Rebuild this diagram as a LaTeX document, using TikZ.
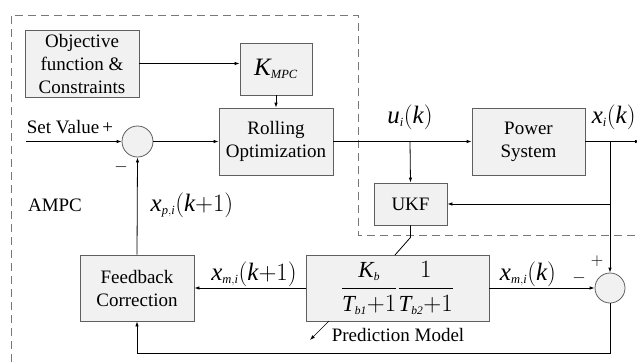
\documentclass[tikz,border=0pt]{standalone}
\usepackage{fontspec}
\setmainfont{Liberation Serif}
\usetikzlibrary{positioning,arrows.meta}
\definecolor{boxfill}{RGB}{241,241,241}
\definecolor{boxline}{RGB}{95,95,95}
\definecolor{dashline}{RGB}{120,120,120}
\newcommand{\sub}[1]{_{\scriptscriptstyle\mathit{#1}}}

\begin{document}
\begin{tikzpicture}[x=1pt,y=-1pt,line width=0.8pt,font=\fontsize{19}{23}\selectfont,
    blk/.style={draw=boxline,fill=boxfill,align=center,inner sep=0pt},
    sumc/.style={circle,draw=boxline,fill=boxfill,minimum size=31pt,inner sep=0pt},
    lbl/.style={font=\fontsize{25}{28}\selectfont},
    >={Latex[length=5pt,width=3.5pt]}]
                \useasboundingbox (0,0) rectangle (637,362);
                \draw[dashline,dash pattern=on 8pt off 5pt] (11,362) -- (11,15) -- (358,15) -- (358,235) -- (640,235);
                \node[blk,minimum width=114pt,minimum height=67pt] (obj) at (82,63.5) {Objective\\function \&\\Constraints};
                \node[blk,minimum width=72pt,minimum height=52pt,lbl] (kmpc) at (276,69) {$\mathit{K}\sub{MPC}$};
                \node[blk,minimum width=114pt,minimum height=67pt] (roll) at (276,141.5) {Rolling\\Optimization};
                \node[sumc] (sum1) at (137.5,141.5) {};
                \node[blk,minimum width=113pt,minimum height=67pt] (power) at (528.5,141.5) {Power\\System};
                \node[blk,minimum width=73pt,minimum height=42pt] (ukf) at (410.5,204) {UKF};
                \node[blk,minimum width=183pt,minimum height=66pt,font=\fontsize{23}{26}\selectfont] (pred) at (397.5,288) {$\displaystyle\frac{\mathit{K}\sub{b}}{\mathit{T}\sub{b1}{+}1}\frac{1}{\mathit{T}\sub{b2}{+}1}$};
                \node[blk,minimum width=114pt,minimum height=66pt] (fb) at (137,288) {Feedback\\Correction};
                \node[sumc,minimum size=30pt] (sum2) at (610,288) {};
                \coordinate (sv) at (26,141.5);
                \coordinate (xout) at (640,141.5);
                \coordinate (ubr) at (410,141.5);
                \coordinate (xbr) at (610,141.5);
                \coordinate (pm) at (310,340);
                \node[anchor=base] (svl) at (70,133) {Set Value\,+};
                \node (minus1) at (121,167) {$-$};
                \node (ampc) at (55,205) {AMPC};
                \node[lbl] (ul) at (410,117) {$\mathit{u}\sub{i}(\mathit{k})$};
                \node[lbl,anchor=east,inner xsep=1pt] (xl) at (637,117) {$\mathit{x}\sub{i}(\mathit{k})$};
                \node[lbl] (xpl) at (192,205) {$\mathit{x}\sub{p,i}(\mathit{k}{+}1)$};
                \node[lbl] (xml1) at (254,274) {$\mathit{x}\sub{m,i}(\mathit{k}{+}1)$};
                \node[lbl] (xml) at (528,274) {$\mathit{x}\sub{m,i}(\mathit{k})$};
                \node (minus2) at (579,278) {$-$};
                \node (plus2) at (597,261) {$+$};
                \node (pml) at (398,335) {Prediction Model};
                \draw[->] (sv) -- (sum1.west);
                \draw[->] (sum1.east) -- (roll.west);
                \draw[->] (obj.east) -- (obj.east -| kmpc.west);
                \draw[->] (kmpc.south) -- (roll.north);
                \draw[->] (roll.east) -- (power.west);
                \draw[->] (power.east) -- (xout);
                \draw[->] (ubr) -- (ukf.north);
                \draw[->] (xbr) -- (sum2.north);
                \draw[->] (xbr |- ukf.east) -- (ukf.east);
                \draw (ukf.south) -- ++(0,12) -- (395,255);
                \draw[->] (pred.west) -- (fb.east);
                \draw[->] (pred.east) -- (sum2.west);
                \draw[->] (fb.north) -- (sum1.south);
                \draw[->] (sum2.south) -- ++(0,50) -| (fb.south);
                \draw[->,line width=0.6pt] (329,321) -- (pm);
            \end{tikzpicture}
\end{document}
